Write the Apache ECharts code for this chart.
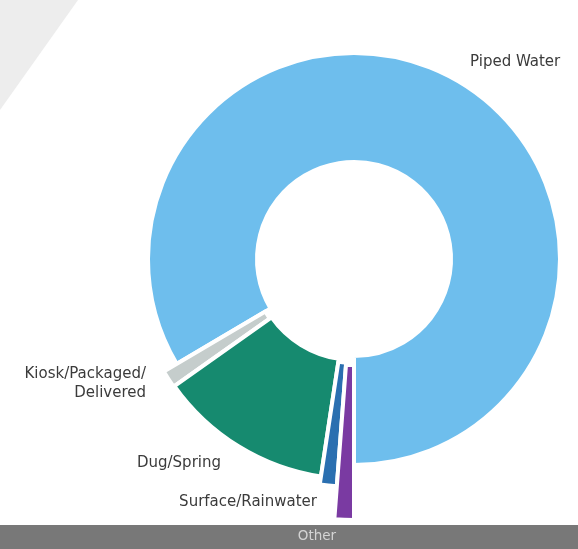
<!DOCTYPE html>
<html>
<head>
<meta charset="utf-8">
<script src="https://cdn.jsdelivr.net/npm/echarts@6/dist/echarts.min.js"></script>
<style>
  html, body { margin: 0; padding: 0; background: #ffffff; }
  #chart { width: 578px; height: 549px; }
</style>
</head>
<body>
<div id="chart"></div>
<script>
// Main source of drinking water, share of households (%)
const categories = ['Piped Water', 'Kiosk/Packaged/Delivered', 'Dug/Spring', 'Surface/Rainwater', 'Other'];
const shares = [83.5, 1.3, 12.8, 1.2, 1.2];

// Look of each ring segment
const sliceColors = ['#6ebeed', '#c5cdcc', '#168a6f', '#2a6fb0', '#7a3aa2'];
const sliceRadii = [[97, 206], [103, 221], [101, 220], [104, 228], [106, 261]];
const labelSpots = [
  { x: 470, y: 62, align: 'left' },
  { x: 146, y: 384, align: 'right' },
  { x: 221, y: 463, align: 'right' },
  { x: 317, y: 502, align: 'right' },
  { x: 317, y: 536, align: 'center' }
];
const labelColors = ['#3b3b3b', '#3b3b3b', '#3b3b3b', '#3b3b3b', '#d4d4d4'];

const chart = echarts.init(document.getElementById('chart'), null, { renderer: 'canvas' });

// One pie layer per segment: every layer shares the same values so the angles line up,
// and each layer paints only its own segment with its own radius.
const series = categories.map((name, k) => ({
  type: 'pie',
  center: [354, 259],
  radius: sliceRadii[k],
  startAngle: 270,
  clockwise: false,
  avoidLabelOverlap: false,
  silent: true,
  animation: false,
  z: 2 + k,
  label: {
    show: false,
    position: 'outside',
    fontFamily: 'DejaVu Sans',
    fontSize: k === 4 ? 13.5 : 15,
    lineHeight: 19,
    color: labelColors[k],
    formatter: p => p.name.replace('Packaged/', 'Packaged/\n')
  },
  labelLine: { show: false },
  labelLayout: p => (p.dataIndex === k
    ? { x: labelSpots[k].x, y: labelSpots[k].y, align: labelSpots[k].align, verticalAlign: 'middle' }
    : {}),
  data: categories.map((c, i) => ({
    name: c,
    value: shares[i],
    itemStyle: i === k
      ? { color: sliceColors[k], borderColor: '#ffffff', borderWidth: 4 }
      : { color: 'rgba(0,0,0,0)', borderWidth: 0 },
    label: { show: i === k }
  }))
}));

chart.setOption({
  backgroundColor: '#ffffff',
  animation: false,
  graphic: [
    {
      type: 'polygon', z: 0, silent: true,
      shape: { points: [[0, 0], [78, 0], [0, 110]] },
      style: { fill: '#ededed' }
    },
    {
      type: 'rect', z: 0, silent: true,
      shape: { x: 0, y: 525, width: 578, height: 24 },
      style: { fill: '#787878' }
    }
  ],
  series: series
});
</script>
</body>
</html>
